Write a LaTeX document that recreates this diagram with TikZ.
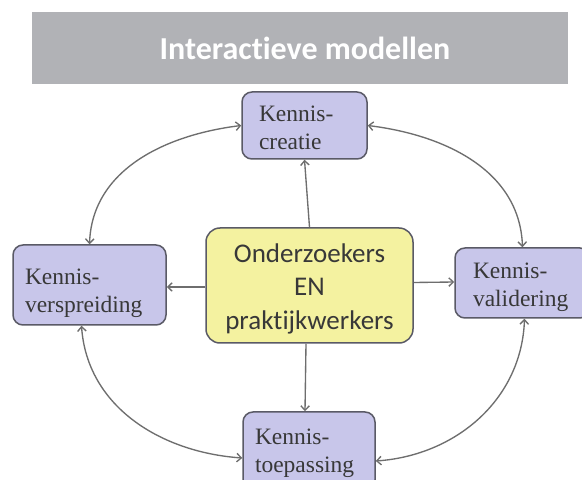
\documentclass[tikz,border=0pt]{standalone}
\usepackage{fontspec}
\setmainfont{Liberation Serif}
\newfontfamily\calfont[Ligatures={NoCommon,NoRare}]{Carlito}
\usetikzlibrary{arrows.meta}

\definecolor{bannergray}{HTML}{B1B2B6}
\definecolor{lavender}{HTML}{C8C6EA}
\definecolor{pale}{HTML}{F4F2A0}
\definecolor{boxline}{HTML}{5A5A66}
\definecolor{linkgray}{HTML}{6E6E6E}
\definecolor{textdark}{HTML}{383838}

% fixed line heights so the text sits at a chosen height in each box
\newcommand\firstline[1]{\rule{0pt}{#1}}
\newcommand\lastline{\rule[-6pt]{0pt}{6pt}}

\begin{document}
\begin{tikzpicture}[x=1pt,y=1pt,
  kbox/.style={draw=boxline, fill=lavender, line width=1.5pt, rounded corners=10pt,
    align=left, inner ysep=0pt, text=textdark,
    font=\fontsize{23.5}{28}\selectfont},
  hub/.style={draw=boxline, fill=pale, line width=1.5pt, rounded corners=14pt,
    align=center, inner sep=0pt, text=textdark,
    font=\calfont\fontsize{27}{33.5}\selectfont,
    minimum width=207pt, minimum height=115pt},
  tip/.tip={Straight Barb[length=4.5pt,width=8.5pt]},
  link/.style={draw=linkgray, line width=1.35pt, -tip},
  twoway/.style={draw=linkgray, line width=1.35pt, tip-tip}]

\useasboundingbox (0,0) rectangle (582,480);
\clip (0,0) rectangle (582,480);
\fill[white] (0,0) rectangle (582,480);

% title banner
\fill[bannergray] (32,468) rectangle (568,396);
\node[text=white, font=\calfont\bfseries\fontsize{32}{36}\selectfont] (title) at (305,432) {Interactieve modellen};

% the four knowledge stages
\node[kbox, text width=91pt, inner xsep=17pt, minimum height=67pt] (creatie) at (304.5,354.5)
  {\firstline{27pt}Kennis-\\creatie\lastline};
\node[kbox, text width=129pt, inner xsep=12pt, minimum height=80pt] (verspreiding) at (89.5,195)
  {\firstline{34pt}Kennis-\\verspreiding\lastline};
\node[kbox, text width=99pt, inner xsep=18pt, minimum height=70pt] (validering) at (522.5,197)
  {\firstline{26pt}Kennis-\\validering\lastline};
\node[kbox, text width=108pt, inner xsep=12pt, minimum height=78pt] (toepassing) at (309,29)
  {\firstline{21pt}Kennis-\\toepassing\lastline};

% central actors
\node[hub] (actors) at (309.5,194.5) {\firstline{27pt}Onderzoekers\\EN\\praktijkwerkers\lastline};

% spokes from the centre
\draw[link] (actors.north) -- (creatie.south);
\draw[link] ([yshift=-1.5pt]actors.west) -- ([yshift=-2pt]verspreiding.east);
\draw[link] ([yshift=3pt]actors.east) -- ([yshift=1pt]validering.west);
\draw[link] ([xshift=-3.5pt]actors.south) -- ([xshift=-4pt]toepassing.north);

% the cycle between the stages
\draw[twoway] (creatie.west) to[out=187, in=88] (verspreiding.north);
\draw[twoway] (creatie.east) to[out=-7, in=92] (validering.north);
\draw[twoway] ([xshift=-8pt]verspreiding.south) to[out=-86, in=176] ([yshift=-7pt]toepassing.west);
\draw[twoway] ([xshift=2pt]validering.south) to[out=-92, in=4] ([yshift=-10pt]toepassing.east);
\end{tikzpicture}
\end{document}
